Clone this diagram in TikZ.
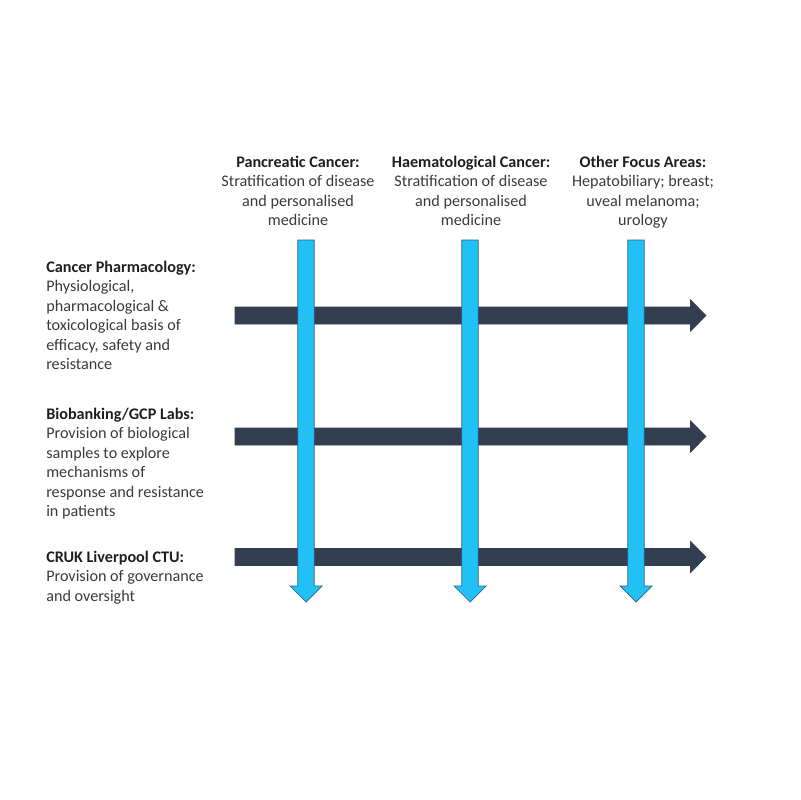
\documentclass[tikz,border=0pt]{standalone}
\usepackage{fontspec}
\setmainfont{Carlito}
\usetikzlibrary{positioning}
\definecolor{navybar}{HTML}{333F50}
\definecolor{skybar}{HTML}{21C0F5}
\definecolor{skyedge}{HTML}{2F5E8A}
\definecolor{labeltext}{HTML}{3A3A3A}
\definecolor{headtext}{HTML}{1E1E1E}
\tikzset{
  hbar/.style={fill=navybar, draw=navybar, line width=0.4pt},
  vbar/.style={fill=skybar, draw=skyedge, line width=0.5pt},
  toplabel/.style={align=center, inner sep=0pt, text=labeltext, font=\fontsize{11.5}{13.9}\selectfont},
  sidelabel/.style={align=left, inner sep=0pt, anchor=north west, text=labeltext, font=\fontsize{11.5}{13.9}\selectfont}
}
% block arrows: #1 = row y, #1 = column x
\newcommand{\rowarrow}[1]{\draw[hbar] (235,#1-8.5) -- (690.5,#1-8.5) -- (690.5,#1-15.7) -- (706,#1) -- (690.5,#1+15.7) -- (690.5,#1+8.5) -- (235,#1+8.5) -- cycle;}
\newcommand{\colarrow}[1]{\draw[vbar] (#1-8.2,240) -- (#1+8.2,240) -- (#1+8.2,586) -- (#1+16,586) -- (#1,602) -- (#1-16,586) -- (#1-8.2,586) -- cycle;}

\begin{document}
\begin{tikzpicture}[x=0.025cm, y=-0.025cm]
      \useasboundingbox (0,0) rectangle (800,800);

      \node[toplabel, anchor=north] (pancreas) at (298, 155.5) {\textcolor{headtext}{\textbf{Pancreatic Cancer:}}\\ Stratification of disease\\ and personalised\\ medicine};
      \node[toplabel, anchor=north] (haemato) at (471, 155.5) {\textcolor{headtext}{\textbf{Haematological Cancer:}}\\ Stratification of disease\\ and personalised\\ medicine};
      \node[toplabel, anchor=north] (otherareas) at (643, 155.5) {\textcolor{headtext}{\textbf{Other Focus Areas:}}\\ Hepatobiliary; breast;\\ uveal melanoma;\\ urology};

      \node[sidelabel] (pharma) at (46, 260.5) {\textcolor{headtext}{\textbf{Cancer Pharmacology:}}\\ Physiological,\\ pharmacological \&\\ toxicological basis of\\ efficacy, safety and\\ resistance};
      \node[sidelabel] (biobank) at (46, 407.5) {\textcolor{headtext}{\textbf{Biobanking/GCP Labs:}}\\ Provision of biological\\ samples to explore\\ mechanisms of\\ response and resistance\\ in patients};
      \node[sidelabel] (ctu) at (46, 550.5) {\textcolor{headtext}{\textbf{CRUK Liverpool CTU:}}\\ Provision of governance\\ and oversight};

      \rowarrow{315.5}
      \rowarrow{436.5}
      \rowarrow{557}
      \colarrow{306}
      \colarrow{470}
      \colarrow{636}
    \end{tikzpicture}
\end{document}
